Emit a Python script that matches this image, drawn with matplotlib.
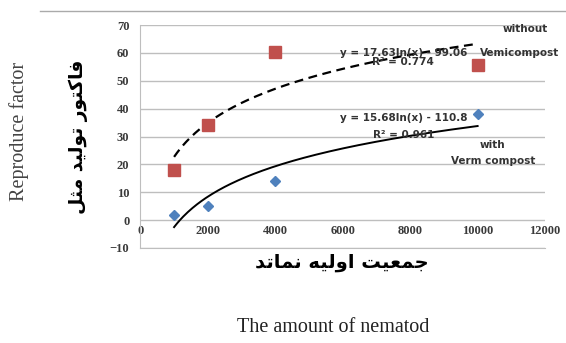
import numpy as np
import matplotlib
matplotlib.use("Agg")
import matplotlib.pyplot as plt
from matplotlib.lines import Line2D

# nematode population (x) and reproduction factor (y)
nematodes = [1000, 2000, 4000, 10000]
without_vc = [18, 34, 60.5, 55.5]
with_vc = [2, 5, 14, 38]

eq_without = ["y = 17.63ln(x) - 99.06", "R\u00b2 = 0.774"]
eq_with = ["y = 15.68ln(x) - 110.8", "R\u00b2 = 0.961"]

xticks = [0, 2000, 4000, 6000, 8000, 10000, 12000]
yticks = [-10, 0, 10, 20, 30, 40, 50, 60, 70]

# persian labels, pre-shaped (presentation forms) in visual order
fa_xlabel = "\uFEAA\uFE97\uFE8E\uFEE4\uFEE7 \uFEEA\uFEF4\uFEDF\uFEED\uFE8D \uFE96\uFEF4\uFECC\uFEE4\uFE9F"
fa_ylabel = "\uFEDE\uFE9C\uFEE3 \uFEAA\uFEF4\uFEDF\uFEEE\uFE97 \uFEAD\uFEEE\uFE98\uFB90\uFE8E\uFED3"

RED = "#C0504D"
BLUE = "#4F81BD"
GRID = "#BEBEBE"

fig = plt.figure(figsize=(5.66, 3.43), dpi=100)
ax = fig.add_axes([0.248, 0.277, 0.715, 0.650])

# log trendlines fitted on the data
xs = np.linspace(min(nematodes), max(nematodes), 200)
a1, b1 = np.polyfit(np.log(nematodes), without_vc, 1)
a2, b2 = np.polyfit(np.log(nematodes), with_vc, 1)
ax.plot(xs, a1 * np.log(xs) + b1, color="black", lw=1.6, ls=(0, (4, 2.5)), zorder=3)
ax.plot(xs, a2 * np.log(xs) + b2, color="black", lw=1.4, zorder=3)

ax.plot(nematodes, without_vc, ls="none", marker="s", ms=8.5, color=RED, zorder=4)
ax.plot(nematodes, with_vc, ls="none", marker="D", ms=5.5, color=BLUE, zorder=4)

ax.set_xlim(0, 12000)
ax.set_ylim(-10, 70)
ax.set_xticks(xticks)
ax.set_yticks(yticks)
ax.yaxis.grid(True, color=GRID, lw=1)
ax.set_axisbelow(True)
for s in ["top", "right"]:
    ax.spines[s].set_visible(False)
ax.spines["left"].set_color(GRID)
ax.spines["bottom"].set_color(GRID)
ax.tick_params(length=0)
ax.tick_params(axis="y", pad=8)
ax.tick_params(axis="x", pad=-8)
for lab in ax.get_xticklabels() + ax.get_yticklabels():
    lab.set_fontfamily("Liberation Serif")
    lab.set_fontweight("bold")
    lab.set_fontsize(9)
    lab.set_color("#3a3a3a")
for lab in ax.get_xticklabels():
    lab.set_verticalalignment("bottom")

tkw = dict(fontsize=7.5, fontweight="bold", color="#333333", ha="center", va="center",
           fontfamily="DejaVu Sans", zorder=5)
ax.text(7800, 60.0, eq_without[0], **tkw)
ax.text(7800, 56.7, eq_without[1], **tkw)
ax.text(7800, 36.6, eq_with[0], **tkw)
ax.text(7800, 30.5, eq_with[1], **tkw)
ax.text(11400, 68.6, "without", **tkw)
ax.text(11250, 60.0, "Vemicompost", **tkw)
ax.text(10430, 26.9, "with", **tkw)
ax.text(10460, 21.2, "Verm compost", **tkw)

# persian axis titles
fig.text(342 / 566, 1 - 262 / 343, fa_xlabel, ha="center", va="center",
         fontsize=14, fontweight="bold", fontfamily="DejaVu Sans")
fig.text(78 / 566, 1 - 137 / 343, fa_ylabel, ha="center", va="center", rotation=90,
         fontsize=13.5, fontweight="bold", fontfamily="DejaVu Sans")

# english titles
fig.text(333 / 566, 1 - 327 / 343, "The amount of nematod", ha="center", va="center",
         fontsize=14.5, fontfamily="Liberation Serif", color="#222222")
fig.text(19 / 566, 1 - 131 / 343, "Reproduce factor", ha="center", va="center", rotation=90,
         fontsize=14.5, fontfamily="Liberation Serif", color="#444444")

# thin border line at the top of the image
fig.add_artist(Line2D([40 / 566, 1], [1 - 10.5 / 343] * 2, transform=fig.transFigure,
                      color="#AAAAAA", lw=1))

fig.savefig("out.png", dpi=100)
